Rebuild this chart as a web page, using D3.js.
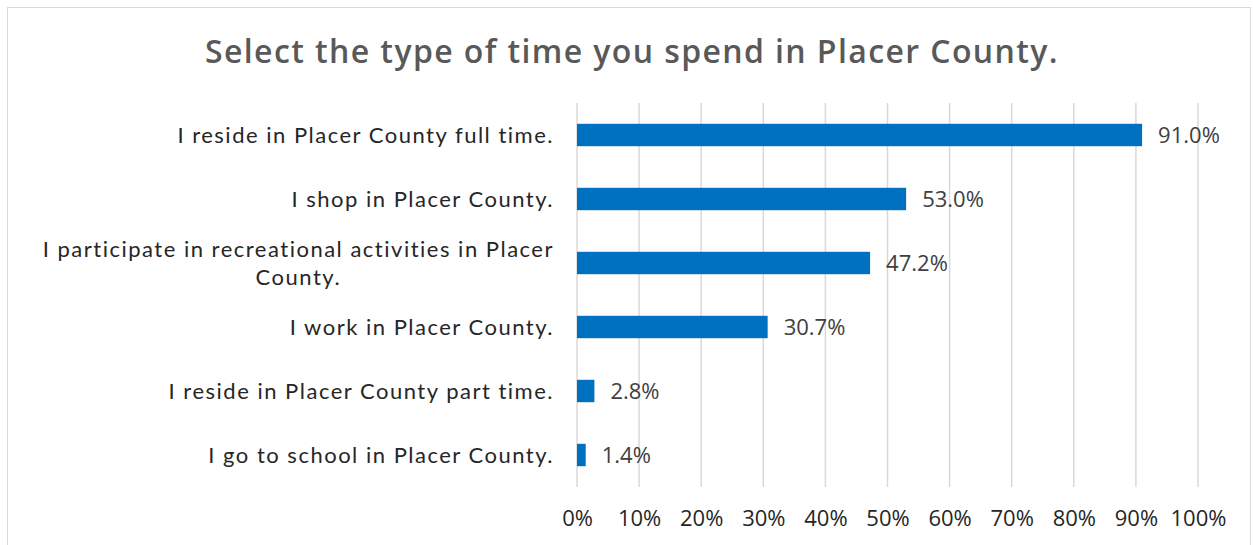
<!DOCTYPE html>
<html>
<head>
<meta charset="utf-8">
<script src="https://cdn.jsdelivr.net/npm/d3@7"></script>
<style>
    html, body { margin: 0; padding: 0; background: #fff; }
    svg { display: block; }
</style>
</head>
<body>
<svg width="1253" height="545"></svg>
<script>
const title = "Select the type of time you spend in Placer County.";
const categories = [
    "I reside in Placer County full time.",
    "I shop in Placer County.",
    "I participate in recreational activities in Placer\nCounty.",
    "I work in Placer County.",
    "I reside in Placer County part time.",
    "I go to school in Placer County."
];
const values = [0.910, 0.530, 0.472, 0.307, 0.028, 0.014];
const xTicks = [0, 0.1, 0.2, 0.3, 0.4, 0.5, 0.6, 0.7, 0.8, 0.9, 1.0];

const plot = { left: 577, right: 1198, top: 103, bottom: 487 };
const labelFont = "Lato, 'Open Sans', sans-serif";
const numberFont = "'Open Sans', 'Noto Sans', sans-serif";

let svg = d3.select("svg");
let x = d3.scaleLinear([0, 1], [plot.left, plot.right]);
let y = d3.scaleBand(categories, [plot.top, plot.bottom]).paddingInner(0.65).paddingOuter(0.325);

// outer chart frame
svg.append("rect")
    .attr("x", 7.5).attr("y", 7.5)
    .attr("width", 1243).attr("height", 560)
    .attr("fill", "none")
    .attr("stroke", "#d9d9d9");

svg.append("text")
    .attr("x", 632).attr("y", 63)
    .attr("text-anchor", "middle")
    .style("font-family", "'Open Sans', sans-serif")
    .style("font-weight", 600)
    .style("font-size", "32px")
    .style("letter-spacing", "1.4px")
    .style("fill", "#595959")
    .text(title);

const grid = selection => {
    selection.selectAll(".grid")
        .data(xTicks)
        .join("line")
        .attr("class", "grid")
        .attr("x1", x).attr("x2", x)
        .attr("y1", plot.top).attr("y2", plot.bottom)
        .attr("stroke", "#d9d9d9")
        .attr("stroke-width", 1.5);
}

const xAxis = selection => {
    let axis = d3.axisBottom(x)
        .tickValues(xTicks)
        .tickFormat(d3.format(".0%"))
        .tickSize(0)
        .tickPadding(0);
    selection.append("g")
        .attr("transform", `translate(0,${plot.bottom + 31})`)
        .call(axis)
        .call(g => g.select(".domain").remove())
        .call(g => g.selectAll("text")
            .attr("dy", "0.35em")
            .style("font-family", numberFont)
            .style("font-size", "22px")
            .style("fill", "#262626"));
}

const bars = selection => {
    selection.selectAll(".bar")
        .data(values)
        .join("rect")
        .attr("class", "bar")
        .attr("x", x(0))
        .attr("y", (d, i) => y(categories[i]))
        .attr("width", d => x(d) - x(0))
        .attr("height", y.bandwidth())
        .attr("fill", "#0070c0");
}

const valueLabels = selection => {
    selection.selectAll(".value")
        .data(values)
        .join("text")
        .attr("class", "value")
        .attr("x", d => x(d) + 16)
        .attr("y", (d, i) => y(categories[i]) + y.bandwidth() / 2)
        .attr("dy", "0.36em")
        .style("font-family", numberFont)
        .style("font-size", "22px")
        .style("fill", "#404040")
        .text(d3.format(".1%"));
}

const categoryLabels = selection => {
    let right = plot.left - 23;
    let lineHeight = 28;
    let g = selection.selectAll(".cat")
        .data(categories)
        .join("text")
        .attr("class", "cat")
        .style("font-family", labelFont)
        .style("font-size", "22px")
        .style("letter-spacing", "1.5px")
        .style("fill", "#262626")
        .attr("text-anchor", "middle");
    g.each(function(d) {
        let lines = d.split("\n");
        let t = d3.select(this);
        let cy = y(d) + y.bandwidth() / 2;
        t.selectAll("tspan")
            .data(lines)
            .join("tspan")
            .attr("y", (l, j) => cy + (j - (lines.length - 1) / 2) * lineHeight)
            .attr("dy", "0.35em")
            .text(l => l);
        let maxW = d3.max(t.selectAll("tspan").nodes(), n => n.getComputedTextLength());
        t.selectAll("tspan").attr("x", right - maxW / 2);
    });
}

svg.call(grid).call(xAxis).call(bars).call(valueLabels).call(categoryLabels);
</script>
</body>
</html>
